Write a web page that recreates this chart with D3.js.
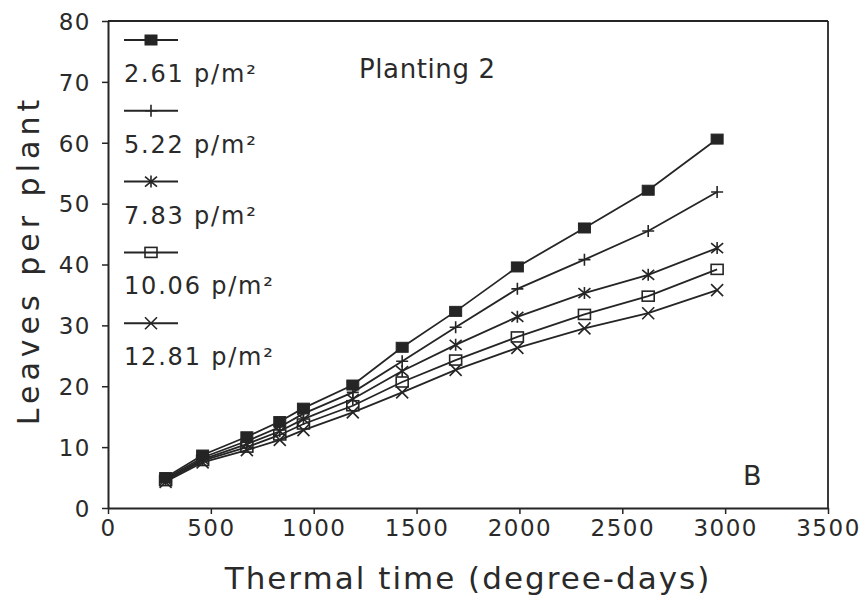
<!DOCTYPE html>
<html>
<head>
<meta charset="utf-8">
<script src="https://cdn.jsdelivr.net/npm/d3@7"></script>
<style>
  html, body { margin: 0; padding: 0; background: #fff; }
  svg { display: block; }
  text { font-family: "DejaVu Sans", sans-serif; fill: #2a2a2a; }
</style>
</head>
<body>
<svg id="chart" width="864" height="602"></svg>
<script>
// ---- data ----
const thermalTime = [280, 460, 675, 835, 950, 1190, 1430, 1690, 1990, 2316, 2626, 2961];
const density261  = [5.0, 8.7, 11.7, 14.2, 16.4, 20.2, 26.4, 32.3, 39.6, 46.0, 52.2, 60.6];
const density522  = [4.8, 8.3, 11.0, 13.3, 15.5, 19.0, 24.1, 29.7, 36.0, 40.8, 45.5, 51.9];
const density783  = [4.6, 8.0, 10.5, 12.6, 14.6, 17.9, 22.5, 26.8, 31.4, 35.3, 38.3, 42.7];
const density1006 = [4.5, 7.8, 10.0, 12.0, 13.8, 16.8, 20.7, 24.3, 28.1, 31.8, 34.8, 39.2];
const density1281 = [4.3, 7.5, 9.5, 11.2, 12.8, 15.7, 19.0, 22.7, 26.3, 29.5, 32.0, 35.8];
const seriesLabels = ["2.61 p/m²", "5.22 p/m²", "7.83 p/m²", "10.06 p/m²", "12.81 p/m²"];
const seriesMarkers = ["fillsquare", "plus", "asterisk", "opensquare", "cross"];
const xTicks = [0, 500, 1000, 1500, 2000, 2500, 3000, 3500];
const yTicks = [0, 10, 20, 30, 40, 50, 60, 70, 80];

const allSeries = [density261, density522, density783, density1006, density1281];

// ---- layout ----
const svg = d3.select("#chart");
const ink = "#252525";
const x = d3.scaleLinear().domain([0, 3500]).range([108, 828]);
const y = d3.scaleLinear().domain([0, 80]).range([508, 21]);

// frame top/right
svg.append("line").attr("x1", x(0)).attr("x2", x(3500)).attr("y1", y(80)).attr("y2", y(80))
  .attr("stroke", ink).attr("stroke-width", 1.8);
svg.append("line").attr("x1", x(3500)).attr("x2", x(3500)).attr("y1", y(80)).attr("y2", y(0))
  .attr("stroke", ink).attr("stroke-width", 1.8);

// axes
const xAxis = d3.axisBottom(x).tickValues(xTicks).tickFormat(d3.format("d"))
  .tickSize(6).tickSizeOuter(0).tickPadding(6);
const gx = svg.append("g").attr("transform", `translate(0,${y(0)})`).call(xAxis);
const yAxis = d3.axisLeft(y).tickValues(yTicks).tickFormat(d3.format("d"))
  .tickSize(6).tickSizeOuter(0).tickPadding(11);
const gy = svg.append("g").attr("transform", `translate(${x(0)},0)`).call(yAxis);
[gx, gy].forEach(g => {
  g.select(".domain").attr("stroke", ink).attr("stroke-width", 2);
  g.selectAll(".tick line").attr("stroke", ink).attr("stroke-width", 1.5);
  g.selectAll(".tick text").attr("font-size", 23).attr("letter-spacing", 1.5)
    .attr("font-family", "DejaVu Sans, sans-serif").attr("fill", "#2a2a2a");
});
gy.selectAll(".tick text").attr("dy", "0.36em");

// axis titles
svg.append("text").attr("x", 468).attr("y", 589).attr("text-anchor", "middle")
  .attr("font-size", 31).attr("letter-spacing", 2).text("Thermal time (degree-days)");
svg.append("text").attr("transform", "translate(39,260) rotate(-90)").attr("text-anchor", "middle")
  .attr("font-size", 30).attr("letter-spacing", 5).text("Leaves per plant");

// annotation
svg.append("text").attr("x", 359).attr("y", 78).attr("font-size", 26).attr("letter-spacing", 0.6).text("Planting 2");
svg.append("text").attr("x", 743).attr("y", 485).attr("font-size", 27).text("B");

// marker drawing
function drawMarker(g, type) {
  const sw = 1.6;
  if (type === "fillsquare") {
    g.append("rect").attr("x", -6).attr("y", -5).attr("width", 12).attr("height", 10)
      .attr("fill", ink).attr("stroke", ink).attr("stroke-width", 1);
  } else if (type === "opensquare") {
    g.append("rect").attr("x", -6).attr("y", -5).attr("width", 12).attr("height", 10)
      .attr("fill", "none").attr("stroke", ink).attr("stroke-width", sw);
  } else if (type === "plus") {
    g.append("path").attr("d", "M-6,0H6M0,-6V6").attr("stroke", ink).attr("stroke-width", sw).attr("fill", "none");
  } else if (type === "asterisk") {
    g.append("path").attr("d", "M0,-6V6M-6,-5L6,5M-6,5L6,-5").attr("stroke", ink).attr("stroke-width", sw).attr("fill", "none");
  } else if (type === "cross") {
    g.append("path").attr("d", "M-6,-6L6,6M-6,6L6,-6").attr("stroke", ink).attr("stroke-width", sw).attr("fill", "none");
  }
}

// lines and markers
const line = d3.line().x((d, i) => x(thermalTime[i])).y(d => y(d));
allSeries.forEach((vals, s) => {
  svg.append("path").datum(vals).attr("d", line).attr("fill", "none")
    .attr("stroke", ink).attr("stroke-width", 1.8);
  vals.forEach((v, i) => {
    const g = svg.append("g").attr("transform", `translate(${x(thermalTime[i])},${y(v)})`);
    drawMarker(g, seriesMarkers[s]);
  });
});

// legend
const legendTop = 40, legendStep = 70.8;
seriesLabels.forEach((lab, s) => {
  const ly = legendTop + s * legendStep;
  svg.append("line").attr("x1", 124).attr("x2", 178).attr("y1", ly).attr("y2", ly)
    .attr("stroke", ink).attr("stroke-width", 2);
  const g = svg.append("g").attr("transform", `translate(151,${ly})`);
  drawMarker(g, seriesMarkers[s]);
  svg.append("text").attr("x", 124).attr("y", ly + 42).attr("font-size", 24)
    .attr("letter-spacing", 1.8).text(lab);
});
</script>
</body>
</html>
